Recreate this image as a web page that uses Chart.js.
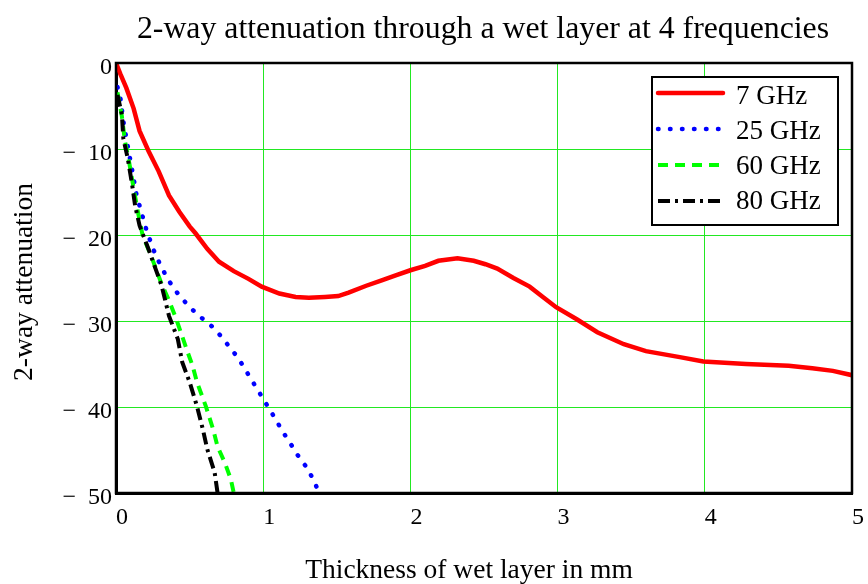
<!DOCTYPE html>
<html>
<head>
<meta charset="utf-8">
<title>2-way attenuation</title>
<script src="https://cdn.jsdelivr.net/npm/chart.js"></script>
<style>
  html, body { margin: 0; padding: 0; background: #fff; }
  #wrap { width: 868px; height: 584px; }
</style>
</head>
<body>
<div id="wrap"><canvas id="chart" width="868" height="584"></canvas></div>
<script>
const CHART_TITLE = '2-way attenuation through a wet layer at 4 frequencies'
const X_TITLE = 'Thickness of wet layer in mm'
const Y_TITLE = '2-way attenuation'
const SERIES_LABELS = ['7 GHz', '25 GHz', '60 GHz', '80 GHz']

const X_TICKS = [0, 1, 2, 3, 4, 5]
const Y_TICKS = [0, -10, -20, -30, -40, -50]

// thickness (mm) and attenuation values
const x7 = [0, 0.03, 0.07, 0.12, 0.16, 0.22, 0.29, 0.36, 0.43, 0.50, 0.54, 0.62, 0.70, 0.80, 0.90, 0.99,
  1.11, 1.22, 1.31, 1.42, 1.51, 1.58, 1.70, 1.80, 1.90, 2.00, 2.10, 2.19, 2.32, 2.43, 2.51, 2.59,
  2.70, 2.81, 2.90, 2.99, 3.13, 3.27, 3.45, 3.60, 3.83, 3.99, 4.28, 4.57, 4.73, 4.87, 5.00]
const y7 = [0, -1.3, -2.9, -5.3, -7.9, -10.2, -12.6, -15.4, -17.3, -19.0, -19.8, -21.6, -23.1, -24.2, -25.1, -26.0,
  -26.8, -27.2, -27.3, -27.2, -27.1, -26.7, -25.9, -25.3, -24.7, -24.1, -23.6, -23.0, -22.7, -23.0, -23.4, -23.9,
  -25.0, -26.0, -27.2, -28.4, -29.8, -31.3, -32.7, -33.5, -34.2, -34.7, -35.0, -35.2, -35.5, -35.8, -36.3]

const x25 = [0.01, 0.03, 0.05, 0.08, 0.11, 0.14, 0.21, 0.24, 0.27, 0.35, 0.41, 0.48, 0.55, 0.65, 0.71, 0.77,
  0.83, 0.88, 0.93, 0.98, 1.03, 1.08, 1.13, 1.18, 1.23, 1.29, 1.34, 1.38]
const y25 = [-2.8, -4.1, -6.8, -9.7, -12.5, -15.4, -19.6, -21.0, -22.4, -25.1, -26.6, -28.0, -29.2, -30.6, -31.7, -33.0,
  -34.3, -35.7, -37.1, -38.5, -39.9, -41.3, -42.8, -44.1, -45.5, -46.9, -48.4, -50.0]

const x60 = [0.01, 0.04, 0.06, 0.09, 0.12, 0.15, 0.18, 0.24, 0.31, 0.36, 0.41, 0.48, 0.52, 0.55, 0.61, 0.66,
  0.69, 0.74, 0.78, 0.80]
const y60 = [-3.4, -6.2, -9.0, -11.6, -14.6, -17.4, -20.0, -22.5, -25.7, -27.6, -29.8, -33.3, -35.2, -37.1, -39.9, -42.6,
  -44.6, -46.5, -48.4, -50.0]

const x80 = [0.01, 0.04, 0.05, 0.08, 0.11, 0.13, 0.16, 0.22, 0.31, 0.36, 0.42, 0.45, 0.50, 0.55, 0.59, 0.62,
  0.67, 0.69]
const y80 = [-3.7, -6.0, -8.8, -11.1, -14.2, -16.6, -18.9, -21.6, -25.9, -29.4, -32.1, -34.8, -37.1, -39.9, -42.6, -44.9,
  -47.6, -50.0]

const SERIF = "'Liberation Serif', 'Times New Roman', serif"

function toPoints(xs, ys) {
  return xs.map((x, i) => ({ x, y: ys[i] }))
}

function makeDataset(label, xs, ys, style) {
  return {
    label,
    data: toPoints(xs, ys),
    borderWidth: 4,
    pointRadius: 0,
    fill: false,
    tension: 0,
    ...style
  }
}

function getDatasets() {
  return [
    makeDataset(SERIES_LABELS[0], x7, y7, { borderColor: '#ff0000', borderWidth: 4.5, borderDash: [], borderCapStyle: 'round', order: 3 }),
    makeDataset(SERIES_LABELS[1], x25, y25, { borderColor: '#0000ff', borderWidth: 4.5, borderDash: [0.5, 11.5], borderCapStyle: 'round', order: 2 }),
    makeDataset(SERIES_LABELS[2], x60, y60, { borderColor: '#00ff00', borderDash: [10, 7], borderCapStyle: 'butt', order: 1 }),
    makeDataset(SERIES_LABELS[3], x80, y80, { borderColor: '#000000', borderDash: [12, 5, 3, 5], borderCapStyle: 'butt', order: 0 }),
  ]
}

function formatYTick(value) {
  return value === 0 ? '0' : '\u2212  ' + Math.abs(value)
}

// frame, titles and boxed legend like the original plot
const decorPlugin = {
  id: 'decor',
  afterDatasetsDraw(chart) {
    const { ctx, chartArea: a } = chart
    ctx.save()
    ctx.strokeStyle = '#000'
    ctx.lineWidth = 2.5
    ctx.strokeRect(a.left, a.top, a.right - a.left, a.bottom - a.top)
    ctx.restore()
  },
  afterDraw(chart) {
    const ctx = chart.ctx
    ctx.save()
    ctx.fillStyle = '#000'
    ctx.textBaseline = 'alphabetic'

    ctx.font = '31.8px ' + SERIF
    ctx.textAlign = 'center'
    ctx.fillText(CHART_TITLE, 483, 38)

    ctx.font = '27.5px ' + SERIF
    ctx.fillText(X_TITLE, 469, 578)

    ctx.save()
    ctx.translate(32, 282)
    ctx.rotate(-Math.PI / 2)
    ctx.fillText(Y_TITLE, 0, 0)
    ctx.restore()

    // legend
    ctx.fillStyle = '#fff'
    ctx.fillRect(652, 77, 186, 148)
    ctx.strokeStyle = '#000'
    ctx.lineWidth = 2
    ctx.strokeRect(652, 77, 186, 148)

    ctx.font = '27px ' + SERIF
    ctx.textAlign = 'left'
    chart.data.datasets.forEach((ds, i) => {
      const yLine = 93 + 36 * i
      ctx.save()
      ctx.strokeStyle = ds.borderColor
      ctx.lineWidth = ds.borderWidth
      ctx.lineCap = ds.borderCapStyle
      ctx.setLineDash(ds.borderDash)
      ctx.beginPath()
      ctx.moveTo(658, yLine)
      ctx.lineTo(723, yLine)
      ctx.stroke()
      ctx.restore()
      ctx.fillStyle = '#000'
      ctx.fillText(ds.label, 736, 104 + 35 * i)
    })
    ctx.restore()
  }
}

const chart = new Chart(document.getElementById('chart').getContext('2d'), {
  type: 'line',
  data: { datasets: getDatasets() },
  options: {
    responsive: false,
    animation: false,
    devicePixelRatio: 1,
    layout: { padding: { top: 63, right: 11, left: 0, bottom: 0 } },
    plugins: {
      legend: { display: false },
      title: { display: false },
      tooltip: { enabled: false }
    },
    scales: {
      x: {
        type: 'linear',
        min: X_TICKS[0],
        max: X_TICKS[X_TICKS.length - 1],
        afterFit: (scale) => { scale.height = 91 },
        afterBuildTicks: (scale) => { scale.ticks = X_TICKS.map(value => ({ value })) },
        grid: { color: '#22e822', lineWidth: 1, drawTicks: false },
        border: { color: '#000', width: 3 },
        ticks: {
          color: '#000',
          padding: 10,
          labelOffset: 6,
          maxRotation: 0,
          font: { family: SERIF, size: 24 }
        }
      },
      y: {
        type: 'linear',
        min: Y_TICKS[Y_TICKS.length - 1],
        max: Y_TICKS[0],
        afterFit: (scale) => { scale.width = 116 },
        afterBuildTicks: (scale) => { scale.ticks = Y_TICKS.map(value => ({ value })) },
        grid: { color: '#22e822', lineWidth: 1, drawTicks: false },
        border: { color: '#000', width: 3 },
        ticks: {
          color: '#000',
          padding: 4,
          labelOffset: 5,
          callback: formatYTick,
          font: { family: SERIF, size: 24 }
        }
      }
    }
  },
  plugins: [decorPlugin]
})
</script>
</body>
</html>
